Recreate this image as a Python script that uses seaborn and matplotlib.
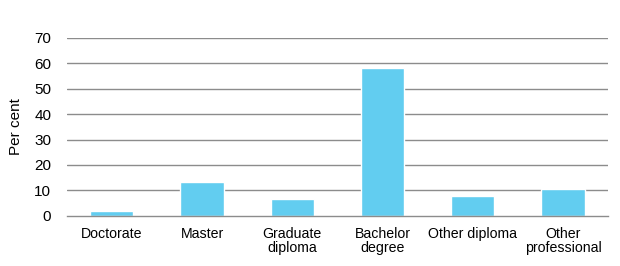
import matplotlib
matplotlib.use("Agg")
import matplotlib.pyplot as plt
import seaborn as sns
import pandas as pd
import numpy as np

categories = ["Doctorate", "Master", "Graduate\ndiploma", "Bachelor\ndegree",
              "Other diploma", "Other\nprofessional"]
values = [1.9, 13.4, 6.5, 58.1, 7.7, 10.4]
y_ticks = [0, 10, 20, 30, 40, 50, 60, 70]

sns.set_theme(style="white")
plt.rcParams['font.family'] = ['Liberation Sans', 'DejaVu Sans']

df = pd.DataFrame({"category": categories, "value": values})

fig = plt.figure(figsize=(6.2, 2.66), dpi=100)
ax = fig.add_axes([0.1075, 0.189, 0.8735, 0.6685])

for t in y_ticks[1:]:
    ax.axhline(t, color="#8c8c8c", lw=1.0, zorder=0)

sns.barplot(data=df, x="category", y="value", color="#62CDF0", saturation=1,
            width=0.48, edgecolor="white", linewidth=1.0, ax=ax, zorder=2)

ax.set_ylim(0, 70)
ax.set_xlim(-0.5, len(categories) - 0.5)
ax.set_yticks(y_ticks)
ax.set_yticklabels([str(t) for t in y_ticks], fontsize=11, color="#000000")
ax.tick_params(axis="y", length=0, pad=11)

ax.set_xticks(range(len(categories)))
ax.set_xticklabels(categories, fontsize=10.2, color="#000000", linespacing=1.05)
ax.tick_params(axis="x", which="major", length=0, pad=8)
ax.set_xticks(np.arange(-0.5, len(categories)), minor=True)
ax.tick_params(axis="x", which="minor", length=4, width=1, color="#8c8c8c", direction="out")

ax.set_xlabel("")
ax.set_ylabel("Per cent", fontsize=11, color="#000000", labelpad=8)

for s in ["top", "right", "left"]:
    ax.spines[s].set_visible(False)
ax.spines["bottom"].set_color("#8c8c8c")
ax.spines["bottom"].set_linewidth(1.0)
ax.spines["bottom"].set_zorder(3)

fig.savefig("out.png", dpi=100)
